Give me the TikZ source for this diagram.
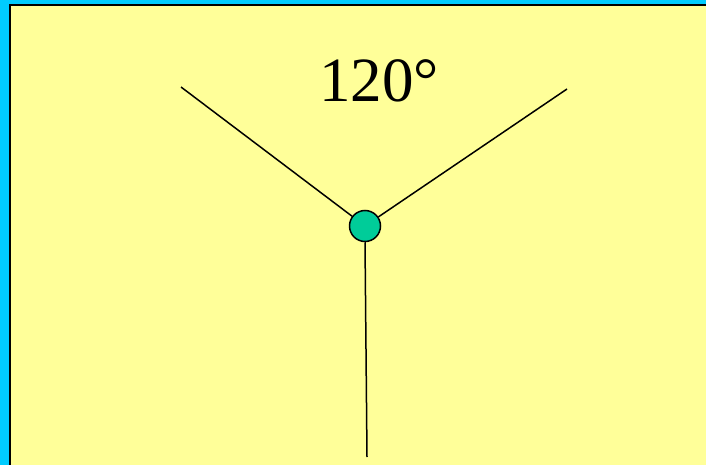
\documentclass[tikz,border=0pt]{standalone}
\usepackage{fontspec}
\setmainfont{Liberation Serif}
\usetikzlibrary{positioning}
\definecolor{slidebg}{HTML}{FFFF99}
\definecolor{slideedge}{HTML}{00CCFF}
\definecolor{hubfill}{HTML}{00CC99}
\begin{document}
\begin{tikzpicture}[x=1pt,y=-1pt,
    hub/.style={circle, draw, line width=1.5pt, fill=hubfill, minimum size=31pt, inner sep=0pt},
    bond/.style={draw, line width=1.5pt},
    anglelbl/.style={font=\fontsize{63}{63}\selectfont, inner sep=0pt}
]
\useasboundingbox (0,0) rectangle (706,465);
% background
\fill[slideedge] (0,0) rectangle (706,465);
\fill[slidebg, draw=black, line width=2pt] (10,5) rectangle (720,480);
% centre and free ends
\node[hub] (centre) at (365,226) {};
\coordinate (leftend) at (181,87);
\coordinate (rightend) at (567,89);
\coordinate (bottomend) at (367,457);
\node[anglelbl] (angle) at (379,81) {120°};
\draw[bond] (leftend) -- (centre);
\draw[bond] (rightend) -- (centre);
\draw[bond] (centre.south) -- (bottomend);
\end{tikzpicture}
\end{document}
